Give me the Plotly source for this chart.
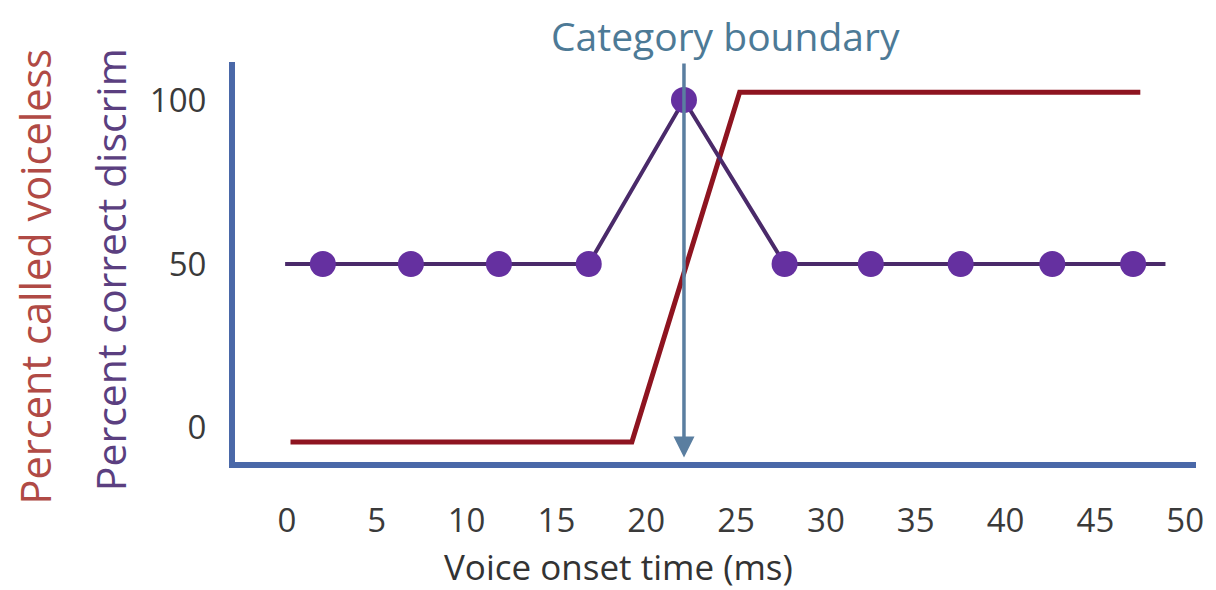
import plotly.graph_objects as go

# ---- data ----
x_ticks = [0, 5, 10, 15, 20, 25, 30, 35, 40, 45, 50]
y_ticks = [0, 50, 100]

# percent correct discrimination (purple)
discrim_x = [2.0, 6.9, 11.8, 16.8, 22.1, 27.7, 32.5, 37.5, 42.6, 47.1]
discrim_y = [50, 50, 50, 50, 100, 50, 50, 50, 50, 50]
discrim_line_x = [-0.1] + discrim_x + [48.9]
discrim_line_y = [50] + discrim_y + [50]

# percent called voiceless (red)
voiceless_x = [0.2, 19.2, 25.2, 47.5]
voiceless_y = [-4.3, -4.3, 102.4, 102.4]

boundary_ms = 22.1

FONT = "Open Sans"
AXIS_BLUE = "#4a68a8"
RED = "#8e1420"
PURPLE_LINE = "#4a2a6a"
PURPLE_MARK = "#6530a0"

fig = go.Figure()
fig.add_trace(go.Scatter(x=voiceless_x, y=voiceless_y, mode="lines",
                         line=dict(color=RED, width=5), hoverinfo="skip"))
fig.add_trace(go.Scatter(x=discrim_line_x, y=discrim_line_y, mode="lines",
                         line=dict(color=PURPLE_LINE, width=4), hoverinfo="skip"))
fig.add_trace(go.Scatter(x=discrim_x, y=discrim_y, mode="markers",
                         marker=dict(color=PURPLE_MARK, size=26), hoverinfo="skip"))

# category boundary arrow
fig.add_annotation(x=boundary_ms, y=-9.0, ax=boundary_ms, ay=111.6,
                   xref="x", yref="y", axref="x", ayref="y",
                   showarrow=True, arrowhead=2, arrowsize=1.2, arrowwidth=3.5,
                   arrowcolor="#5a7ea0", text="")

txt = dict(showarrow=False, xref="paper", yref="paper", xanchor="center",
           yanchor="middle", borderpad=0)
fig.add_annotation(x=0.51, y=1.0675, text="Category boundary",
                   font=dict(family=FONT, size=39, color="#4d7a96"), **txt)
fig.add_annotation(x=0.399, y=-0.262, text="Voice onset time (ms)",
                   font=dict(family=FONT, size=35, color="#333333"), **txt)
fig.add_annotation(x=-0.2077, y=0.465, text="Percent called voiceless", textangle=-90,
                   font=dict(family=FONT, size=41.5, color="#b04a45"), **txt)
fig.add_annotation(x=-0.1298, y=0.48, text="Percent correct discrim", textangle=-90,
                   font=dict(family=FONT, size=41, color="#5b3f80"), **txt)

fig.update_layout(
    width=1208, height=582,
    margin=dict(l=227, r=18, t=54, b=128),
    paper_bgcolor="white", plot_bgcolor="white",
    showlegend=False,
    font=dict(family=FONT, color="#3a3a3a"),
    xaxis=dict(range=[-2.89, 50.6], tickvals=x_ticks, ticktext=[str(v) for v in x_ticks],
               showgrid=False, zeroline=False, showline=True, linecolor=AXIS_BLUE,
               linewidth=6, ticks="outside", ticklen=24, tickcolor="rgba(0,0,0,0)",
               tickfont=dict(family=FONT, size=33, color="#3a3a3a")),
    yaxis=dict(range=[-10.4, 111.6], tickvals=y_ticks, ticktext=[str(v) for v in y_ticks],
               showgrid=False, zeroline=False, showline=True, linecolor=AXIS_BLUE,
               linewidth=6, ticks="outside", ticklen=16, tickcolor="rgba(0,0,0,0)",
               tickfont=dict(family=FONT, size=33, color="#3a3a3a")),
)

fig.write_html("out.html")
